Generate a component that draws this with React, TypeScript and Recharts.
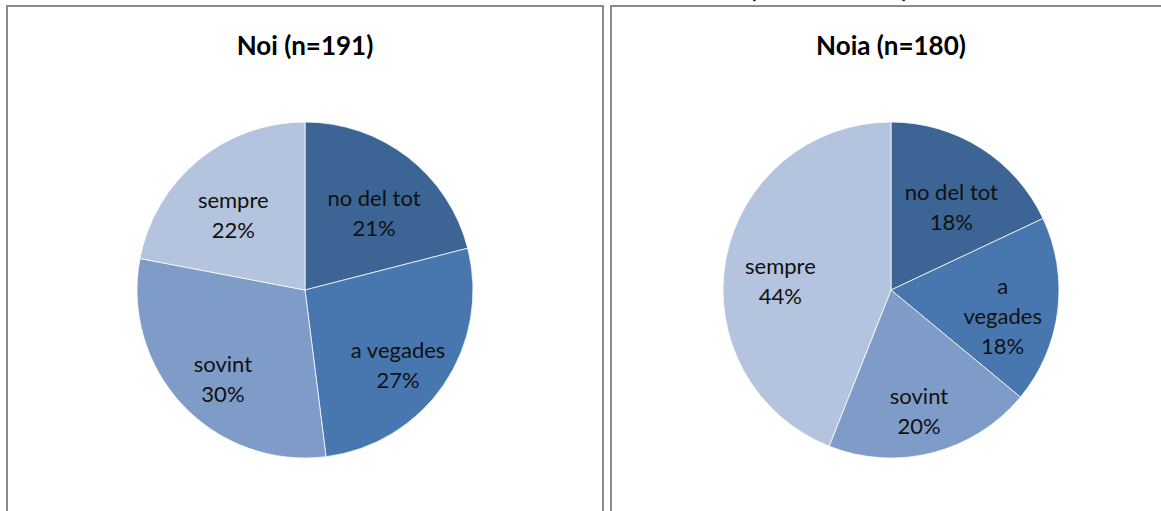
import { PieChart, Pie } from "recharts";

const categories = ["no del tot", "a vegades", "sovint", "sempre"];
const noiValues = [21, 27, 30, 22];
const noiaValues = [18, 18, 20, 44];
const sliceColors = ["#3c6494", "#4877b0", "#7f9bc7", "#b4c3de"];
const noiTitle = "Noi (n=191)";
const noiaTitle = "Noia (n=180)";
const topTitle = "(total n=371)";
const noiaWrapped = ["a vegades"];

const RADIAN = Math.PI / 180;
// PieChart adds its default 5px margin to cx/cy
const OFF = 5;

function buildData(values: number[]) {
  return categories.map((name, i) => ({ name, value: values[i], fill: sliceColors[i] }));
}

function makeLabel(wrapped: string[]) {
  return (props: any) => {
    const { cx, cy, midAngle, outerRadius, name, value } = props;
    const r = outerRadius * 0.67;
    const x = cx + r * Math.cos(-midAngle * RADIAN);
    const y = cy + 11 + r * Math.sin(-midAngle * RADIAN);
    const lines = wrapped.includes(name) ? name.split(" ") : [name];
    lines.push(`${value}%`);
    const lh = 30;
    const y0 = y - ((lines.length - 1) * lh) / 2;
    return (
      <text
        x={x}
        y={y0}
        textAnchor="middle"
        dominantBaseline="central"
        fill="#111"
        fontSize={22}
        fontFamily="Lato"
      >
        {lines.map((l, i) => (
          <tspan key={i} x={x} y={y0 + i * lh}>
            {l}
          </tspan>
        ))}
      </text>
    );
  };
}

const titleStyle: React.CSSProperties = {
  position: "absolute",
  top: 30,
  width: 400,
  textAlign: "center",
  fontFamily: "Lato",
  fontWeight: 700,
  fontSize: 26,
  lineHeight: "30px",
  color: "#000",
};

const panelStyle: React.CSSProperties = {
  position: "absolute",
  top: 5,
  height: 560,
  border: "2px solid #8a8a8a",
  boxSizing: "border-box",
};

export default function App() {
  return (
    <div
      style={{
        position: "fixed",
        left: 0,
        top: 0,
        width: 1161,
        height: 511,
        overflow: "hidden",
        background: "#fff",
        fontFamily: "Lato",
      }}
    >
      <div
        style={{
          position: "absolute",
          left: 829 - 200,
          top: -29,
          width: 400,
          textAlign: "center",
          fontWeight: 700,
          fontSize: 28,
          lineHeight: "30px",
        }}
      >
        {topTitle}
      </div>
      <div style={{ ...panelStyle, left: 6, width: 598 }} />
      <div style={{ ...panelStyle, left: 610, width: 600 }} />
      <div style={{ ...titleStyle, left: 305 - 200 }}>{noiTitle}</div>
      <div style={{ ...titleStyle, left: 891 - 200 }}>{noiaTitle}</div>
      <div style={{ position: "absolute", left: 0, top: 0 }}>
        <PieChart width={1161} height={511}>
          <Pie
            data={buildData(noiValues)}
            dataKey="value"
            nameKey="name"
            cx={305 - OFF}
            cy={290 - OFF}
            outerRadius={168}
            startAngle={90}
            endAngle={-270}
            stroke="#ffffff"
            strokeWidth={0.75}
            labelLine={false}
            label={makeLabel([])}
            isAnimationActive={false}
          />
          <Pie
            data={buildData(noiaValues)}
            dataKey="value"
            nameKey="name"
            cx={891 - OFF}
            cy={290 - OFF}
            outerRadius={168}
            startAngle={90}
            endAngle={-270}
            stroke="#ffffff"
            strokeWidth={0.75}
            labelLine={false}
            label={makeLabel(noiaWrapped)}
            isAnimationActive={false}
          />
        </PieChart>
      </div>
    </div>
  );
}
